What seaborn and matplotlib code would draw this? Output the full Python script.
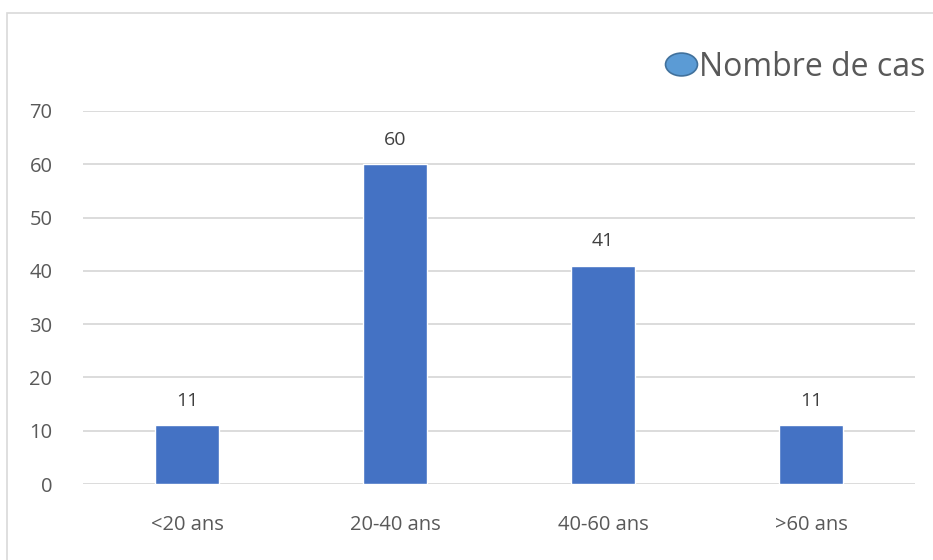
import matplotlib
matplotlib.use("Agg")
import matplotlib.pyplot as plt
import seaborn as sns
import pandas as pd
from matplotlib.lines import Line2D
from matplotlib.patches import Rectangle
from matplotlib.path import Path
from matplotlib.transforms import Affine2D

categories = ["<20 ans", "20-40 ans", "40-60 ans", ">60 ans"]
values = [11, 60, 41, 11]
series_name = "Nombre de cas"
yticks = [0, 10, 20, 30, 40, 50, 60, 70]

sns.set_theme(style="white")
plt.rcParams['font.family'] = ['Open Sans', 'DejaVu Sans']

df = pd.DataFrame({"cat": categories, "val": values})

W, H = 933, 560
fig = plt.figure(figsize=(W / 100, H / 100), dpi=100)
ax = fig.add_axes([83 / W, 1 - 484 / H, (915 - 83) / W, (484 - 111) / H])

sns.barplot(data=df, x="cat", y="val", color="#4472C4", width=0.31,
            saturation=1, ax=ax, zorder=3)

ax.set_ylim(0, 70)
ax.set_xlim(-0.5, 3.5)
ax.set_yticks(yticks)
ax.yaxis.grid(True, color="#D9D9D9", linewidth=1.3, zorder=0)
ax.set_axisbelow(True)
for s in ax.spines.values():
    s.set_visible(False)
ax.set_xlabel("")
ax.set_ylabel("")
ax.tick_params(axis="both", length=0, labelsize=14.5, labelcolor="#595959")
ax.tick_params(axis="x", pad=22)
ax.tick_params(axis="y", pad=22)

for i, v in enumerate(values):
    ax.annotate(str(v), (i, v), xytext=(0, 11), textcoords="offset points",
                ha="center", va="bottom", fontsize=14, color="#404040")

ellipse = Affine2D().scale(1.4, 1.0).transform_path(Path.unit_circle())
handle = Line2D([], [], marker=ellipse, linestyle="none", markersize=23,
                markerfacecolor="#5B9BD5", markeredgecolor="#41719C",
                markeredgewidth=1.2)
leg = fig.legend([handle], [series_name], loc="center right",
                 bbox_to_anchor=(938 / W, 1 - 67 / H), frameon=False,
                 fontsize=23, handletextpad=0.0, handlelength=1.1,
                 labelcolor="#595959", borderaxespad=0)

fig.patches.append(Rectangle((7 / W, -0.1), 1.2, 1 - 13 / H + 0.1,
                             transform=fig.transFigure, fill=False,
                             edgecolor="#D9D9D9", linewidth=1.2))

fig.savefig("out.png", dpi=100)
